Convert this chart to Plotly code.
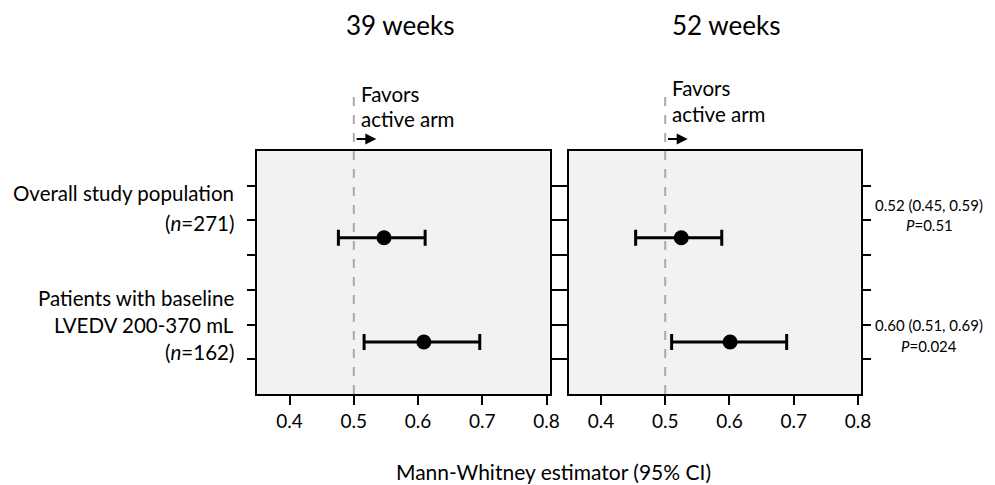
import plotly.graph_objects as go

# ---- data ----
panels = ["39 weeks", "52 weeks"]
row_y = [4.5, 1.5]
est_39 = [0.547, 0.609]
lo_39 = [0.476, 0.516]
hi_39 = [0.611, 0.696]
est_52 = [0.525, 0.601]
lo_52 = [0.454, 0.510]
hi_52 = [0.588, 0.689]
x_ticks = [0.4, 0.5, 0.6, 0.7, 0.8]
y_ticks = [1, 2, 3, 4, 5, 6]
left_labels = ["Overall study population", "(<i>n</i>=271)",
               "Patients with baseline", "LVEDV 200-370 mL", "(<i>n</i>=162)"]
left_label_y = [5.79, 4.93, 2.76, 1.99, 1.21]
right_labels = ["0.52 (0.45, 0.59)", "<i>P</i>=0.51",
                "0.60 (0.51, 0.69)", "<i>P</i>=0.024"]
right_label_y = [5.44, 4.87, 1.99, 1.38]
ref_line = 0.5

FONT = "Lato"
BG = "#f2f2f2"
OFF_X, OFF_Y = 2, 8  # page offset of the figure
W, H = 979, 477

def px(v):
    return (v - OFF_X) / W

def py(v):
    return (H - (v - OFF_Y)) / H

fig = go.Figure()

for i, (est, lo, hi) in enumerate([(est_39, lo_39, hi_39), (est_52, lo_52, hi_52)]):
    xa = "x" if i == 0 else "x2"
    ya = "y" if i == 0 else "y2"
    fig.add_trace(go.Scatter(
        x=est, y=row_y, mode="markers", xaxis=xa, yaxis=ya,
        marker=dict(color="black", size=15, symbol="circle"),
        error_x=dict(type="data", symmetric=False,
                     array=[h - e for h, e in zip(hi, est)],
                     arrayminus=[e - l for e, l in zip(est, lo)],
                     color="black", thickness=3, width=8),
        showlegend=False, hoverinfo="skip"))

axis_common = dict(range=[0.35, 0.805], tickvals=x_ticks, ticktext=[f"{v:.1f}" for v in x_ticks],
                   showline=True, linecolor="black", linewidth=2, mirror=True,
                   ticks="outside", ticklen=9, tickwidth=2, tickcolor="black",
                   showgrid=False, zeroline=False,
                   tickfont=dict(family=FONT, size=19, color="black"), fixedrange=True)
yaxis_common = dict(range=[0, 7], tickvals=y_ticks, showticklabels=False,
                    showline=True, linecolor="black", linewidth=2, mirror="ticks",
                    ticks="outside", ticklen=8, tickwidth=2, tickcolor="black",
                    showgrid=False, zeroline=False, fixedrange=True)

fig.update_layout(
    width=W, height=H,
    margin=dict(l=0, r=0, t=0, b=0),
    paper_bgcolor="white", plot_bgcolor=BG,
    xaxis=dict(domain=[px(254), px(549.4)], anchor="y", **axis_common),
    xaxis2=dict(domain=[px(568.6), px(864)], anchor="y2", **axis_common),
    yaxis=dict(domain=[py(394), py(151)], anchor="x", **yaxis_common),
    yaxis2=dict(domain=[py(394), py(151)], anchor="x2", **yaxis_common),
    font=dict(family=FONT, color="black"),
)

ann = []
# panel titles
title_x = [0.4875, 0.536]
for i, t in enumerate(panels):
    xr = "x domain" if i == 0 else "x2 domain"
    yr = "y domain" if i == 0 else "y2 domain"
    ann.append(dict(text=t, xref=xr, yref=yr, x=title_x[i], y=(394-25)/243,
                    xanchor="center", yanchor="middle", showarrow=False,
                    font=dict(family=FONT, size=26, color="black")))

# favors text + arrows
fav_y = [((394-94)/243, (394-119)/243), ((394-88)/243, (394-114)/243)]
fav_shift = [5, 5]
line_top = [(394-89)/243, (394-96)/243]
for i in range(2):
    xr = "x" if i == 0 else "x2"
    yr = "y domain" if i == 0 else "y2 domain"
    ann.append(dict(text="Favors", xref=xr, yref=yr, x=ref_line, y=fav_y[i][0],
                    xanchor="left", yanchor="middle", xshift=fav_shift[i], showarrow=False,
                    font=dict(family=FONT, size=20.5, color="black")))
    ann.append(dict(text="active arm", xref=xr, yref=yr, x=ref_line, y=fav_y[i][1],
                    xanchor="left", yanchor="middle", xshift=fav_shift[i], showarrow=False,
                    font=dict(family=FONT, size=20.5, color="black")))
    ann.append(dict(text="", xref=xr, yref=yr, x=0.535, y=(394-139)/243,
                    axref=xr, ax=ref_line + 0.002, ayref="pixel", ay=0,
                    showarrow=True, arrowhead=2, arrowsize=1, arrowwidth=2.2,
                    arrowcolor="black", standoff=0, startstandoff=0))
    fig.add_shape(type="line", xref=xr, yref=yr, x0=ref_line, x1=ref_line, y0=0, y1=line_top[i],
                  line=dict(color="#aaaaaa", width=2, dash="dash"), layer="above")

# left labels
for t, yv in zip(left_labels, left_label_y):
    ann.append(dict(text=t, xref="x domain", yref="y", x=(232-254)/295.4, y=yv,
                    xanchor="right", yanchor="middle", showarrow=False,
                    font=dict(family=FONT, size=20.5, color="black")))

# right labels
for t, yv in zip(right_labels, right_label_y):
    ann.append(dict(text=t, xref="x2 domain", yref="y2", x=(933-568.6)/295.4, y=yv,
                    xanchor="center", yanchor="middle", showarrow=False,
                    font=dict(family=FONT, size=15, color="black")))

# x-axis title
ann.append(dict(text="Mann-Whitney estimator (95% CI)", xref="paper", yref="paper",
                x=px(553), y=py(471), xanchor="center", yanchor="middle", showarrow=False,
                font=dict(family=FONT, size=21, color="black")))

fig.update_layout(annotations=ann)
fig.write_html("out.html")
